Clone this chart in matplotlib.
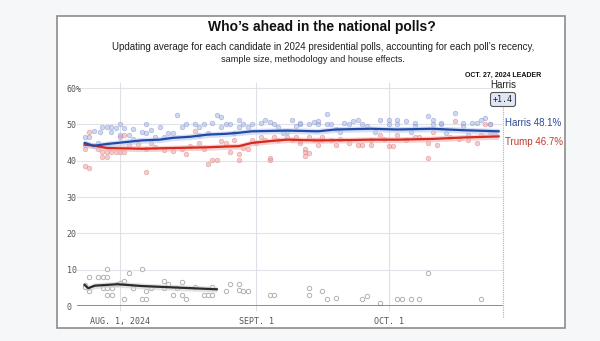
import numpy as np
import matplotlib.pyplot as plt
from matplotlib.patches import Rectangle

# ---- data (days are offsets from Aug. 1, 2024) ----
base = np.datetime64('2024-08-01')

harris_avg_days = [-8, -6, -3, 1, 5, 9, 12, 16, 20, 24, 27, 30, 38, 45, 49, 57, 63, 71, 78, 86]
harris_avg = [44.9, 44.1, 44.6, 45.1, 45.6, 45.8, 46.3, 46.6, 47.2, 47.4, 47.7, 48.1,
              48.3, 48.1, 48.6, 48.8, 48.6, 48.8, 48.4, 48.1]

trump_avg_days = [-8, -6, -3, 5, 12, 20, 24, 27, 30, 34, 38, 41, 45, 53, 57, 63, 71, 78, 86]
trump_avg = [44.4, 44.2, 43.5, 43.3, 43.5, 43.7, 43.9, 44.0, 44.9, 45.4, 45.8, 45.7,
             45.6, 45.7, 45.8, 45.8, 46.0, 46.4, 46.7]

kennedy_avg_days = [-8, -7.2, -5.7, -0.5, 5, 12.5, 22]
kennedy_avg = [5.8, 4.9, 5.6, 6.0, 5.5, 5.1, 4.6]

harris_poll_days = [-8, -7, -6, -4.5, -2, -4, -3, -2, -1, 0, 1, 0, 2, 3, 5, 6, 6, 7, 8, 9,
                    11, 12, 13, 14, 15, 17, 18, 19, 20, 21, 22, 23, 23, 24, 25, 27, 27, 28,
                    29, 30, 32, 33, 34, 35, 36, 38, 39, 40, 41, 44, 45, 41, 43, 45, 47, 47,
                    48, 49, 51, 52, 53, 54, 55, 56, 59, 61, 61, 63, 63, 65, 67, 67, 70, 71,
                    71, 73, 73, 76, 78, 78, 80, 81, 82, 83, 84, -8, -5, 3, 10, 18, 26, 37,
                    50, 58, 66, 74, 79, 84]
harris_polls = [46.4, 46.4, 48.1, 48.0, 48.0, 49.2, 49.2, 49.2, 49.0, 50.0, 49.0, 47.2, 47.2,
                48.7, 48.0, 50.0, 47.6, 48.5, 46.4, 49.2, 47.6, 47.6, 52.5, 49.2, 50.0, 50.0,
                49.2, 50.0, 47.6, 50.5, 52.7, 52.1, 49.2, 50.0, 50.0, 51.3, 49.2, 50.0, 49.2,
                50.0, 50.5, 51.3, 50.7, 50.0, 49.2, 48.0, 51.3, 49.6, 50.0, 50.7, 50.0, 50.5,
                50.0, 50.8, 52.8, 50.0, 50.0, 48.6, 50.5, 50.0, 50.8, 51.3, 50.0, 49.6, 51.1,
                50.0, 51.3, 50.0, 51.3, 50.8, 50.5, 49.6, 52.3, 51.3, 50.0, 50.0, 50.5, 53.2,
                49.6, 50.5, 50.5, 50.5, 51.3, 51.9, 50.0, 44.2, 45.0, 46.0, 46.5, 47.0, 47.5,
                47.5, 48.0, 48.0, 47.8, 47.5, 47.0, 48.0]

trump_poll_days = [-8, -8, -7, -7, -5, -4, -3, -4, -3, -3, -2, -1, 0, 1, 1, 0, 2, 6, 6, 7, 8,
                   12, 14, 15, 17, 18, 19, 20, 21, 22, 23, 24, 25, 26, 27, 27, 28, 29, 30, 32,
                   33, 34, 34, 35, 36, 38, 39, 40, 41, 42, 42, 43, 44, 45, 41, 42, 43, 45, 46,
                   46, 48, 49, 52, 54, 55, 57, 57, 59, 61, 62, 63, 65, 67, 70, 70, 71, 72, 75,
                   76, 79, 81, 82, 83, 84, -6, 4, 10, 16, 31, 50, 60, 68, 77, 85]
trump_polls = [43.1, 38.6, 38.0, 47.8, 43.1, 42.3, 42.3, 41.1, 41.1, 44.2, 42.3, 42.3, 42.3,
               42.3, 47.2, 46.4, 44.2, 37.0, 43.1, 44.8, 43.9, 42.7, 43.1, 41.9, 48.1, 44.8,
               43.1, 39.1, 40.1, 40.1, 45.3, 44.8, 42.3, 45.6, 41.9, 40.1, 43.4, 43.1, 45.8,
               46.4, 45.6, 40.7, 40.1, 46.4, 45.8, 46.4, 45.8, 46.4, 44.8, 42.3, 41.4, 46.4,
               45.6, 44.2, 45.5, 43.1, 42.0, 45.8, 46.4, 45.6, 45.6, 44.2, 44.8, 44.2, 44.2,
               44.2, 45.6, 47.0, 44.1, 44.1, 47.0, 45.8, 46.4, 40.8, 44.8, 48.0, 44.2, 46.4,
               50.8, 45.8, 45.0, 47.0, 50.0, 50.0, 44.0, 44.5, 43.0, 44.0, 45.0, 46.0, 46.0,
               46.5, 46.0, 47.5]

other_poll_days = [-8, -8, -7, -7, -5, -3.8, -2.9, -2.9, -3.8, -2.9, -1.8, -2.9, -1.8, -0.7,
                   0, 1, 1, 2, 3, 5, 5, 6, 6, 7, 10, 10, 11, 12, 13, 14, 14, 15, 17, 19, 20,
                   21, 21, 24, 25, 27, 27, 28, 29, 34, 35, 43, 43, 46, 47, 49, 55, 56, 59,
                   63, 64, 66, 68, 70, 82]
other_polls = [5.8, 5.2, 8.0, 4.2, 8.0, 8.0, 8.0, 10.2, 5.0, 5.0, 5.0, 3.0, 3.0, 6.1, 6.2,
               7.0, 2.0, 9.1, 5.0, 10.3, 2.0, 2.0, 4.0, 5.0, 7.0, 5.0, 6.0, 3.0, 5.0, 6.6,
               3.0, 2.0, 5.2, 3.0, 3.0, 3.0, 5.2, 4.0, 6.0, 6.0, 4.5, 4.0, 4.0, 3.0, 3.0,
               5.0, 3.0, 4.0, 2.0, 2.3, 2.0, 2.8, 0.8, 2.0, 2.0, 2.0, 2.0, 9.0, 2.0]

y_ticks = [0, 10, 20, 30, 40, 50, 60]
y_labels = ['0', '10', '20', '30', '40', '50', '60%']
x_tick_dates = ['2024-08-01', '2024-09-01', '2024-10-01']
x_labels = ['AUG. 1, 2024', 'SEPT. 1', 'OCT. 1']


def to_dates(days):
    return base + np.round(np.array(days) * 24).astype(int).astype('timedelta64[h]')


HARRIS = '#1f4aa8'
TRUMP = '#d42a22'

fig = plt.figure(figsize=(6, 3.41), dpi=100, facecolor='#f6f7f9')
fig.patches.append(Rectangle((57 / 600, 13 / 341), 508 / 600, 312 / 341, transform=fig.transFigure,
                             facecolor='white', edgecolor='#8c8c8c', linewidth=1.2, zorder=-5))

ax = fig.add_axes([77 / 600, 35 / 341, 426 / 600, 223 / 341])
ax.set_facecolor('none')

# poll dots
ax.scatter(to_dates(other_poll_days), other_polls, s=10, facecolor='white', edgecolor='#a8a8a8',
           linewidth=0.7, alpha=0.9, zorder=2)
ax.scatter(to_dates(trump_poll_days), trump_polls, s=11, facecolor='#eda3a3', edgecolor='#d77a7a',
           linewidth=0.5, alpha=0.55, zorder=2)
ax.scatter(to_dates(harris_poll_days), harris_polls, s=11, facecolor='#a9b8e6', edgecolor='#7d8fcf',
           linewidth=0.5, alpha=0.55, zorder=2)

# averages with shaded bands
for d, v, c, band in [(kennedy_avg_days, kennedy_avg, '#2b2b2b', '#cfcfcf'),
                      (trump_avg_days, trump_avg, TRUMP, '#f4b3ae'),
                      (harris_avg_days, harris_avg, HARRIS, '#b9c8ee')]:
    v = np.array(v)
    ax.fill_between(to_dates(d), v - 0.8, v + 0.8, color=band, alpha=0.6, linewidth=0, zorder=3)
    ax.plot(to_dates(d), v, color=c, linewidth=1.6, zorder=4)

ax.set_xlim(np.datetime64('2024-07-22T06'), np.datetime64('2024-10-27'))
ax.set_ylim(0, 61.4)

# grid
for t in y_ticks[1:]:
    ax.axhline(t, color='#e0e3ea', linewidth=0.8, zorder=1)
for t in x_tick_dates:
    ax.axvline(np.datetime64(t), ymin=-0.02, ymax=1, color='#dde0e7', linewidth=0.8,
               zorder=1, clip_on=False)
ax.axhline(0, color='#707070', linewidth=1.1, zorder=5)
ax.axvline(np.datetime64('2024-10-27'), ymin=-0.05, ymax=0.90, color='#b0b0b0',
           linewidth=0.8, linestyle=(0, (1, 1)), clip_on=False, zorder=1)

for s in ax.spines.values():
    s.set_visible(False)

ax.set_yticks(y_ticks)
ax.set_yticklabels(y_labels, family='DejaVu Sans Mono', fontsize=6, color='#555555')
for lab in ax.get_yticklabels():
    lab.set_horizontalalignment('left')
ax.tick_params(axis='y', length=0, pad=7.5)

ax.set_xticks([np.datetime64(t) for t in x_tick_dates])
ax.set_xticklabels(x_labels, family='DejaVu Sans Mono', fontsize=6, color='#555555')
ax.tick_params(axis='x', length=0, pad=8)

# titles
fig.text(322 / 600, 1 - 27 / 341, 'Who’s ahead in the national polls?', ha='center', va='center',
         family='Liberation Sans', fontweight='bold', fontsize=10, color='#111111')
fig.text(323 / 600, 1 - 47 / 341,
         'Updating average for each candidate in 2024 presidential polls, accounting for each poll’s recency,',
         ha='center', va='center', family='Liberation Sans', fontsize=7, color='#222222')
fig.text(313 / 600, 1 - 60 / 341, 'sample size, methodology and house effects.',
         ha='center', va='center', family='Liberation Sans', fontsize=6.6, color='#222222')

# leader box
fig.text(503 / 600, 1 - 75 / 341, 'OCT. 27, 2024 LEADER', ha='center', va='center',
         family='Liberation Sans', fontweight='bold', fontsize=5, color='#111111')
fig.text(503 / 600, 1 - 85 / 341, 'Harris', ha='center', va='center',
         family='Liberation Sans', fontsize=7, color='#222222')
fig.text(503 / 600, 1 - 99.5 / 341, '+1.4', ha='center', va='center',
         family='DejaVu Sans Mono', fontsize=6, color='#222222',
         bbox=dict(boxstyle='round,pad=0.3', facecolor='#dfe7f6', edgecolor='#555555', linewidth=0.8))

# end labels
fig.text(505 / 600, 1 - 123 / 341, 'Harris 48.1%', ha='left', va='center',
         family='Liberation Sans', fontsize=7, color='#2a4a9a')
fig.text(505 / 600, 1 - 142 / 341, 'Trump 46.7%', ha='left', va='center',
         family='Liberation Sans', fontsize=7, color='#c0392b')

plt.savefig('out.png', dpi=100, facecolor=fig.get_facecolor())
